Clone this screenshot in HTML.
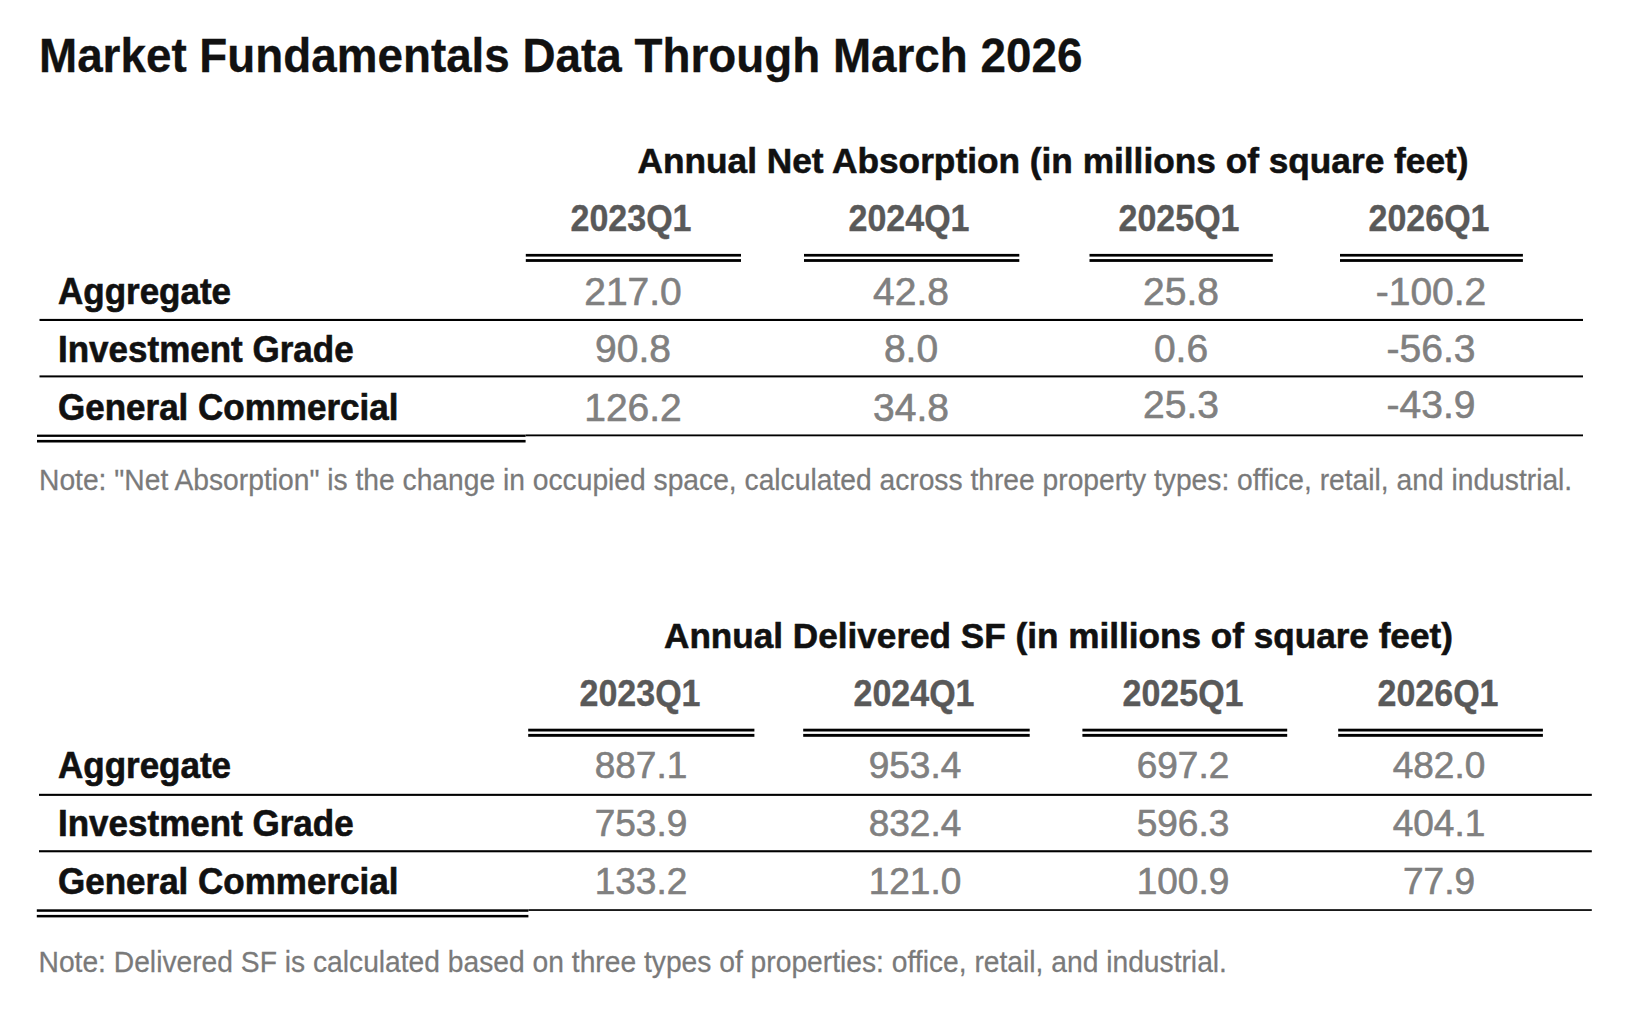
<!DOCTYPE html>
<html>
<head>
<meta charset="utf-8">
<style>
html,body{margin:0;padding:0;background:#fff;}
body{width:1640px;height:1027px;position:relative;overflow:hidden;font-family:"Liberation Sans",sans-serif;}
.t{position:absolute;white-space:nowrap;}
.title{left:39px;top:34px;font-size:45.8px;line-height:46px;font-weight:bold;color:#111;-webkit-text-stroke:0.3px #111;transform:scaleY(1.04);transform-origin:0 39px;}
.ttl{font-size:35.15px;line-height:36px;font-weight:bold;color:#111;-webkit-text-stroke:0.55px #111;}
.hd{font-size:34px;line-height:36px;font-weight:bold;color:#595959;width:240px;text-align:center;-webkit-text-stroke:0.35px #595959;transform:scaleY(1.08);transform-origin:50% 30px;}
.val{font-size:38px;line-height:38px;color:#808080;width:240px;text-align:center;-webkit-text-stroke:0.6px #808080;}
.v1{font-size:39px;}
.v2{font-size:37px;}
.lab{font-size:35px;line-height:36px;font-weight:bold;color:#111;left:58px;-webkit-text-stroke:0.6px #111;transform:scaleY(1.03);transform-origin:0 30px;}
.note{font-size:28.22px;line-height:28px;color:#7a7a7a;-webkit-text-stroke:0.25px #7a7a7a;transform:scaleY(1.05);transform-origin:0 24px;}
</style>
</head>
<body>
<div class="t title">Market Fundamentals Data Through March 2026</div>

<!-- Table 1 -->
<div class="t ttl" style="left:637.5px;top:143px;font-size:35.25px;">Annual Net Absorption (in millions of square feet)</div>
<div class="t hd" style="left:511px;top:201px;">2023Q1</div>
<div class="t hd" style="left:789px;top:201px;">2024Q1</div>
<div class="t hd" style="left:1059px;top:201px;">2025Q1</div>
<div class="t hd" style="left:1309px;top:201px;">2026Q1</div>


<div class="t lab" style="top:274px;">Aggregate</div>
<div class="t lab" style="top:332px;">Investment Grade</div>
<div class="t lab" style="top:390px;">General Commercial</div>

<div class="t val v1" style="left:513px;top:273px;">217.0</div>
<div class="t val v1" style="left:791px;top:273px;">42.8</div>
<div class="t val v1" style="left:1061px;top:273px;">25.8</div>
<div class="t val v1" style="left:1311px;top:273px;">-100.2</div>
<div class="t val v1" style="left:513px;top:330px;">90.8</div>
<div class="t val v1" style="left:791px;top:330px;">8.0</div>
<div class="t val v1" style="left:1061px;top:330px;">0.6</div>
<div class="t val v1" style="left:1311px;top:330px;">-56.3</div>
<div class="t val v1" style="left:513px;top:389px;">126.2</div>
<div class="t val v1" style="left:791px;top:389px;">34.8</div>
<div class="t val v1" style="left:1061px;top:386px;">25.3</div>
<div class="t val v1" style="left:1311px;top:386px;">-43.9</div>


<div class="t note" style="left:39px;top:466px;">Note: "Net Absorption" is the change in occupied space, calculated across three property types: office, retail, and industrial.</div>

<!-- Table 2 -->
<div class="t ttl" style="left:664px;top:618px;">Annual Delivered SF (in millions of square feet)</div>
<div class="t hd" style="left:520px;top:676px;">2023Q1</div>
<div class="t hd" style="left:794px;top:676px;">2024Q1</div>
<div class="t hd" style="left:1063px;top:676px;">2025Q1</div>
<div class="t hd" style="left:1318px;top:676px;">2026Q1</div>


<div class="t lab" style="top:748px;">Aggregate</div>
<div class="t lab" style="top:806px;">Investment Grade</div>
<div class="t lab" style="top:864px;">General Commercial</div>

<div class="t val v2" style="left:521px;top:747px;">887.1</div>
<div class="t val v2" style="left:795px;top:747px;">953.4</div>
<div class="t val v2" style="left:1063px;top:747px;">697.2</div>
<div class="t val v2" style="left:1319px;top:747px;">482.0</div>
<div class="t val v2" style="left:521px;top:805px;">753.9</div>
<div class="t val v2" style="left:795px;top:805px;">832.4</div>
<div class="t val v2" style="left:1063px;top:805px;">596.3</div>
<div class="t val v2" style="left:1319px;top:805px;">404.1</div>
<div class="t val v2" style="left:521px;top:863px;">133.2</div>
<div class="t val v2" style="left:795px;top:863px;">121.0</div>
<div class="t val v2" style="left:1063px;top:863px;">100.9</div>
<div class="t val v2" style="left:1319px;top:863px;">77.9</div>


<div class="t note" style="left:38.5px;top:948px;">Note: Delivered SF is calculated based on three types of properties: office, retail, and industrial.</div>
<svg width="1640" height="1027" style="position:absolute;left:0;top:0"><g fill="#000">
<rect x="525.8" y="253.9" width="215.2" height="2.7"/>
<rect x="525.8" y="259.1" width="215.2" height="2.8"/>
<rect x="804" y="253.9" width="215.3" height="2.7"/>
<rect x="804" y="259.1" width="215.3" height="2.8"/>
<rect x="1089.5" y="253.9" width="183.3" height="2.7"/>
<rect x="1089.5" y="259.1" width="183.3" height="2.8"/>
<rect x="1340" y="253.9" width="182.9" height="2.7"/>
<rect x="1340" y="259.1" width="182.9" height="2.8"/>
<rect x="39.5" y="318.9" width="1543.5" height="2.1"/>
<rect x="39.5" y="375.4" width="1543.5" height="2.0"/>
<rect x="525.6" y="434.45" width="1057.4" height="1.85"/>
<rect x="37" y="434.6" width="488.6" height="2.3"/>
<rect x="37" y="439.9" width="488.6" height="2.6"/>
<rect x="528.2" y="728.7" width="226.2" height="2.8"/>
<rect x="528.2" y="733.9" width="226.2" height="2.9"/>
<rect x="803.2" y="728.7" width="226.5" height="2.8"/>
<rect x="803.2" y="733.9" width="226.5" height="2.9"/>
<rect x="1082.4" y="728.7" width="204.8" height="2.8"/>
<rect x="1082.4" y="733.9" width="204.8" height="2.9"/>
<rect x="1338.2" y="728.7" width="204.7" height="2.8"/>
<rect x="1338.2" y="733.9" width="204.7" height="2.9"/>
<rect x="39" y="793.8" width="1552.8" height="2.1"/>
<rect x="39" y="850.2" width="1552.8" height="2.1"/>
<rect x="528.4" y="909.2" width="1063.4" height="1.7"/>
<rect x="36.8" y="909.3" width="491.6" height="2.5"/>
<rect x="36.8" y="914.9" width="491.6" height="2.5"/>
</g></svg>
</body>
</html>
